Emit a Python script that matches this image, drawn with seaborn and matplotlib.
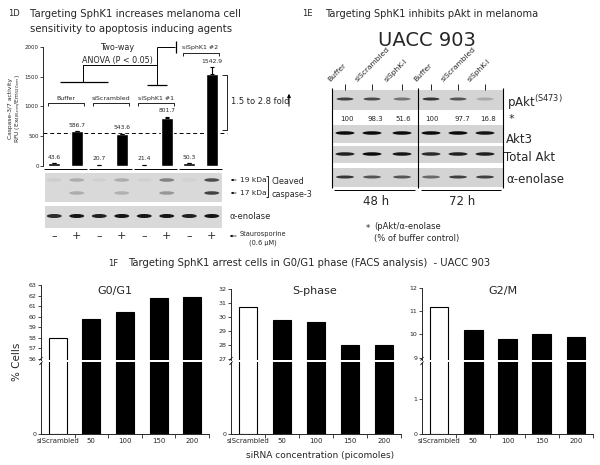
import numpy as np
import pandas as pd
import matplotlib
matplotlib.use("Agg")
import matplotlib.pyplot as plt
import seaborn as sns
from matplotlib.patches import Rectangle, Ellipse

# =========================================================================
# DATA
# =========================================================================
# 1D - caspase-3/7 activity
lanes_1d = ['Buffer -', 'Buffer +', 'siScr -', 'siScr +',
            'siSphK1#1 -', 'siSphK1#1 +', 'siSphK1#2 -', 'siSphK1#2 +']
caspase_rfu = [43.6, 586.7, 20.7, 543.6, 21.4, 801.7, 50.3, 1542.9]
caspase_err = [0, 0, 0, 0, 0, 28, 0, 120]
groups_1d = ['Buffer', 'siScrambled', 'siSphK1 #1', 'siSphK1 #2']
stauro_sign = ['\u2013', '+', '\u2013', '+', '\u2013', '+', '\u2013', '+']
threshold_rfu = 550
band_19kda = [0.05, 0.2, 0.04, 0.2, 0.04, 0.4, 0.03, 0.65]
band_17kda = [0.0, 0.2, 0.0, 0.18, 0.0, 0.3, 0.0, 0.7]
band_enol_1d = [0.8, 0.9, 0.85, 0.9, 0.9, 0.9, 0.85, 0.9]

# 1E - pAkt western
lanes_1e = ['Buffer', 'siScrambled', 'siSphK-I'] * 2
pakt_ratio = ['100', '98.3', '51.6', '100', '97.7', '16.8']
band_pakt = [0.7, 0.65, 0.45, 0.75, 0.6, 0.2]
band_akt3 = [0.95, 0.95, 0.95, 0.95, 0.95, 0.9]
band_total_akt = [0.85, 0.95, 0.9, 0.8, 0.85, 0.85]
band_enol_1e = [0.75, 0.6, 0.6, 0.5, 0.7, 0.7]

# 1F - FACS (% cells)
conc = ['siScrambled', '50', '100', '150', '200']
g0g1 = [58.0, 59.8, 60.4, 61.8, 61.9]
sphase = [30.7, 29.8, 29.6, 28.0, 28.0]
g2m = [11.2, 10.2, 9.8, 10.0, 9.9]

# =========================================================================
W, H = 600, 465
sns.set_theme(style="white")
plt.rcParams['font.family'] = ['DejaVu Sans']
fig = plt.figure(figsize=(W / 100, H / 100), dpi=100)

ov = fig.add_axes([0, 0, 1, 1])
ov.set_xlim(0, W)
ov.set_ylim(H, 0)
ov.axis('off')


def px_axes(x0, y0, x1, y1):
    return fig.add_axes([x0 / W, 1 - y1 / H, (x1 - x0) / W, (y1 - y0) / H])


def line(xs, ys, lw=0.7, **kw):
    ov.plot(xs, ys, color='black', lw=lw, solid_capstyle='butt', **kw)


def bands(xs, y, alphas, w=15, h=3.5):
    for x, a in zip(xs, alphas):
        if a > 0:
            ov.add_patch(Ellipse((x, y), w, h, facecolor='black', alpha=a, lw=0))


# ---------------------------------------------------------------- 1D
ov.text(8, 14, '1D', fontsize=6, va='center')
ov.text(30, 14, 'Targeting SphK1 increases melanoma cell', fontsize=7.3, va='center')
ov.text(30, 29, 'sensitivity to apoptosis inducing agents', fontsize=7.3, va='center')

ax1 = px_axes(43, 47, 223, 166)
df1 = pd.DataFrame({'lane': lanes_1d, 'rfu': caspase_rfu})
sns.barplot(data=df1, x='lane', y='rfu', color='black', width=0.53, ax=ax1,
            errorbar=None, saturation=1)
ax1.errorbar(range(len(lanes_1d)), caspase_rfu,
             yerr=[np.zeros(len(caspase_err)), caspase_err],
             fmt='none', ecolor='black', elinewidth=0.8, capsize=1.5, capthick=0.8)
for i, (v, e) in enumerate(zip(caspase_rfu, caspase_err)):
    ax1.annotate(f'{v}', (i, v + e), xytext=(0, 2.5), textcoords='offset points',
                 ha='center', va='bottom', fontsize=4.3)
ax1.set_xlim(-0.5, 7.5)
ax1.set_ylim(0, 2000)
ax1.set_yticks([0, 500, 1000, 1500, 2000])
ax1.set_xticks([])
ax1.set_xlabel('')
ax1.set_ylabel('')
ax1.tick_params(axis='y', labelsize=4, length=2, width=0.6, pad=1, left=True)
for s in ['top', 'right', 'bottom']:
    ax1.spines[s].set_visible(False)
ax1.spines['left'].set_linewidth(0.7)
ax1.patch.set_alpha(0)

lane_x = [43 + (i + 0.5) * 22.5 for i in range(8)]
v2p = lambda v: 166 - v * 119 / 2000

ov.text(11, 108, 'Caspase-3/7 activity', rotation=90, fontsize=4.3, ha='center', va='center')
ov.text(18, 108, r'RFU (Ex$_{485nm}$/Em$_{520nm}$)', rotation=90, fontsize=4.3,
        ha='center', va='center')

# segmented x axis
for g in range(4):
    line([lane_x[2 * g] - 10, lane_x[2 * g + 1] + 10], [169, 169])

# dashed reference
ov.plot([43, 227], [v2p(threshold_rfu)] * 2, color='black', lw=0.7, ls=(0, (4, 3)))

# group brackets
for g, name in enumerate(groups_1d):
    cx = (lane_x[2 * g] + lane_x[2 * g + 1]) / 2
    y = 103 if g < 3 else 53
    line([cx - 18, cx - 18, cx + 18, cx + 18], [y + 3, y, y, y + 3], lw=0.6)
    ov.text(cx, y - 5, name, fontsize=4.5, ha='center', va='center')

# ANOVA annotation
line([60, 108], [82, 82], lw=0.9)
line([83, 83, 157], [82, 65, 65])
line([157, 157], [47, 85])
line([147, 167], [85, 85], lw=0.9)
line([157, 175], [47, 47])
line([176, 176], [41, 53], lw=0.9)
ov.text(117, 47, 'Two-way', fontsize=5.8, ha='center', va='center')
ov.text(117, 60, 'ANOVA (P < 0.05)', fontsize=5.8, ha='center', va='center')

# fold bracket
line([222, 227, 227, 222], [75, 75, 130, 130], lw=0.6)
ov.text(231, 101, '1.5 to 2.8 fold', fontsize=6, ha='left', va='center')
ov.annotate('', xy=(289, 91), xytext=(289, 109),
            arrowprops=dict(arrowstyle='-|>', color='black', lw=0.7,
                            mutation_scale=5))

# caspase-3 blot
ov.add_patch(Rectangle((45, 173), 177, 29, facecolor='#d9d9d9', lw=0))
bands(lane_x, 180, band_19kda)
bands(lane_x, 193, band_17kda)
ov.add_patch(Rectangle((45, 206), 177, 22, facecolor='#d9d9d9', lw=0))
bands(lane_x, 216, band_enol_1d, h=4)

for y, lab in [(180, '19 kDa'), (193, '17 kDa')]:
    ov.annotate('', xy=(228, y), xytext=(239, y),
                arrowprops=dict(arrowstyle='-|>', color='black', lw=0.5,
                                mutation_scale=3))
    ov.text(240, y, lab, fontsize=5.4, ha='left', va='center')
line([266, 268, 268, 266], [176, 176, 197, 197], lw=0.6)
ov.text(271, 181, 'Cleaved', fontsize=5.8, ha='left', va='center')
ov.text(271, 194, 'caspase-3', fontsize=5.8, ha='left', va='center')
ov.text(230, 216, '\u03b1-enolase', fontsize=6, ha='left', va='center')

for x, s in zip(lane_x, stauro_sign):
    ov.text(x, 236, s, fontsize=8, ha='center', va='center')
ov.annotate('', xy=(227, 236), xytext=(239, 236),
            arrowprops=dict(arrowstyle='-|>', color='black', lw=0.5, mutation_scale=3))
ov.text(263, 238, 'Staurosporine\n(0.6 \u03bcM)', fontsize=4.8, ha='center',
        va='center', linespacing=1.5)

# ---------------------------------------------------------------- 1E
ov.text(302, 14, '1E', fontsize=6, va='center')
ov.text(325, 14, 'Targeting SphK1 inhibits pAkt in melanoma', fontsize=7.1, va='center')
ov.text(427, 40, 'UACC 903', fontsize=14, ha='center', va='center')

lx = [345, 372, 402, 431, 458, 485]
for x, lab in zip(lx, lanes_1e):
    line([x, x], [84, 90], lw=0.6)
    ov.text(x - 14, 83, lab, rotation=45, fontsize=5.4, ha='left', va='bottom',
            rotation_mode='anchor')

strips = [(90, 110), (125, 143), (146, 163), (168, 187)]
for y0, y1 in strips:
    ov.add_patch(Rectangle((332, y0), 171, y1 - y0, facecolor='#d4d4d4', lw=0))
bands(lx, 99, band_pakt, w=17, h=3)
bands(lx, 133, band_akt3, w=19, h=3.5)
bands(lx, 154, band_total_akt, w=19, h=3.5)
bands(lx, 177, band_enol_1e, w=18, h=3)
for x in [332, 418, 503]:
    line([x, x], [88, 188], lw=0.8)
for x, t in zip([347, 375, 403, 432, 462, 488], pakt_ratio):
    ov.text(x, 119, t, fontsize=5, ha='center', va='center')
line([334, 415], [190, 190])
line([421, 501], [190, 190])
ov.text(376, 201, '48 h', fontsize=8.5, ha='center', va='center')
ov.text(462, 201, '72 h', fontsize=8.5, ha='center', va='center')

ov.text(507, 103, r'pAkt$^{\rm (S473)}$', fontsize=8.5, ha='left', va='center')
ov.text(509, 119, '*', fontsize=8, ha='left', va='center')
ov.text(506, 139, 'Akt3', fontsize=8.5, ha='left', va='center')
ov.text(504, 157, 'Total Akt', fontsize=8.5, ha='left', va='center')
ov.text(506, 179, '\u03b1-enolase', fontsize=8.5, ha='left', va='center')

ov.text(368, 228, '*', fontsize=6, ha='center', va='center')
ov.text(374, 226, '(pAkt/\u03b1-enolase', fontsize=6, ha='left', va='center')
ov.text(374, 238, '(% of buffer control)', fontsize=6, ha='left', va='center')

# ---------------------------------------------------------------- 1F
ov.text(108, 263, '1F', fontsize=6, va='center')
ov.text(128, 263, 'Targeting SphK1 arrest cells in G0/G1 phase (FACS analysis)  - UACC 903',
        fontsize=7.2, va='center')

panels = [
    ('G0/G1', g0g1, (41, 209), 285, (55.9, 63.0), range(56, 64), [0], 2.0, 115),
    ('S-phase', sphase, (231, 401), 289, (26.9, 32.0), range(27, 33), [0], 2.0, 315),
    ('G2/M', g2m, (422, 593), 288, (8.9, 12.0), range(9, 13), [0, 1], 2.06, 503),
]
palette = ['white'] + ['black'] * (len(conc) - 1)
for title, vals, (x0, x1), top, ylim_up, ticks_up, ticks_lo, lo_max, tx in panels:
    df = pd.DataFrame({'conc': conc, 'pct': vals})
    up = px_axes(x0, top, x1, 360)
    lo = px_axes(x0, 362, x1, 434)
    for ax in (up, lo):
        sns.barplot(data=df, x='conc', y='pct', hue='conc', palette=palette,
                    legend=False, width=0.54, edgecolor='black', linewidth=0.8,
                    errorbar=None, saturation=1, ax=ax)
        ax.set_xlim(-0.5, 4.5)
        ax.set_xlabel('')
        ax.set_ylabel('')
        ax.patch.set_alpha(0)
        for s in ['top', 'right']:
            ax.spines[s].set_visible(False)
        ax.spines['left'].set_linewidth(0.7)
        ax.tick_params(axis='y', labelsize=4.5, length=2.5, width=0.6, pad=1, left=True)
    up.set_ylim(*ylim_up)
    up.set_yticks(list(ticks_up))
    up.spines['bottom'].set_visible(False)
    up.set_xticks([])
    lo.set_ylim(0, lo_max)
    lo.set_yticks(ticks_lo)
    lo.spines['bottom'].set_linewidth(0.7)
    lo.set_xticks(range(len(conc)))
    lo.set_xticklabels(conc)
    lo.set_xticks([0.5, 1.5, 2.5, 3.5, 4.5], minor=True)
    lo.tick_params(axis='x', which='major', length=0, labelsize=5, pad=3)
    lo.tick_params(axis='x', which='minor', length=3, width=0.6, bottom=True)
    # axis break marks
    line([x0 - 1.5, x0 + 1.5], [360.5, 357], lw=0.6)
    line([x0 - 1.5, x0 + 1.5], [365, 361.5], lw=0.6)
    ov.text(tx, 291, title, fontsize=8, ha='center', va='center')

ov.text(17, 362, '% Cells', rotation=90, fontsize=7.5, ha='center', va='center')
ov.text(320, 455, 'siRNA concentration (picomoles)', fontsize=6.5, ha='center', va='center')

fig.savefig('out.png', dpi=100)
